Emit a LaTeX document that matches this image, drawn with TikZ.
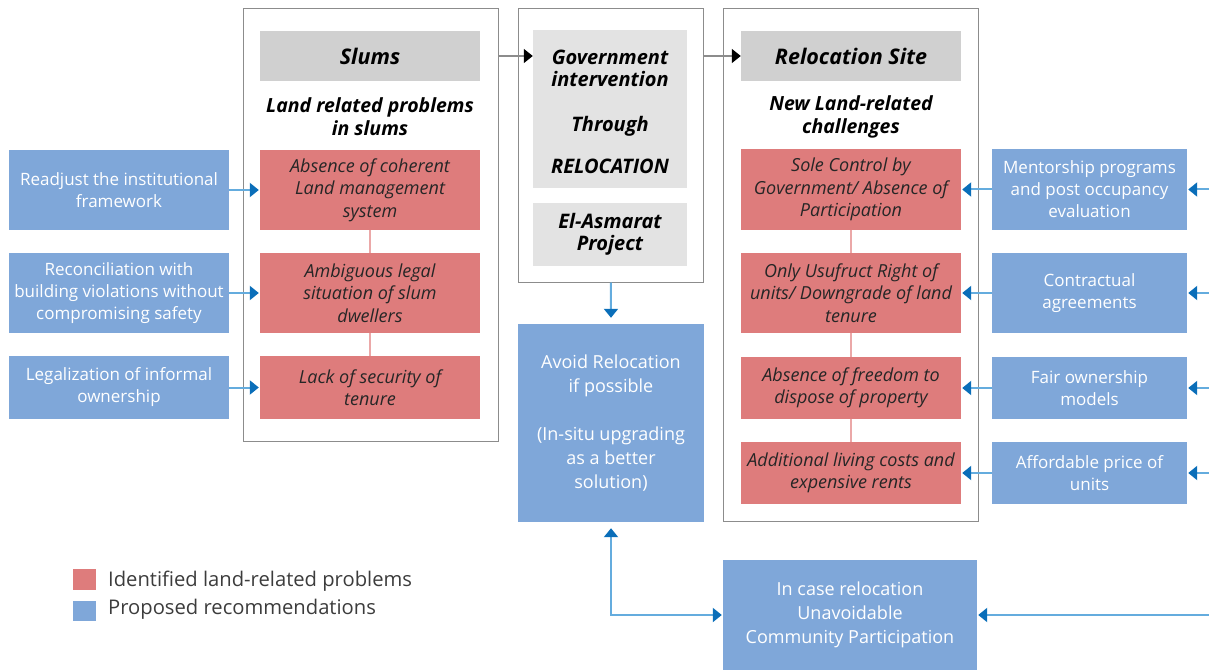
\documentclass[tikz,border=0pt]{standalone}
\usepackage{fontspec}
\setmainfont{Open Sans}
\usetikzlibrary{arrows.meta,shadows}
\definecolor{recblue}{RGB}{127,167,217}
\definecolor{probred}{RGB}{222,124,124}
\definecolor{grayhead}{RGB}{208,208,208}
\definecolor{graylight}{RGB}{227,227,227}
\definecolor{lineblue}{RGB}{100,172,222}
\definecolor{tipblue}{RGB}{10,110,185}
\definecolor{pinkline}{RGB}{235,168,168}
\definecolor{framegray}{RGB}{140,140,140}
\definecolor{legendtext}{RGB}{60,60,60}
\begin{document}
\begin{tikzpicture}[x=1pt,y=-1pt,
  frame/.style={draw=framegray, line width=1pt, fill=white, inner sep=0pt,
    drop shadow={shadow xshift=1.2pt, shadow yshift=-1.2pt, opacity=0.3, fill=black}},
  recbox/.style={fill=recblue, text=white, inner sep=1pt, align=center,
    font=\fontsize{17}{22}\selectfont},
  probbox/.style={fill=probred, text=black!85, inner sep=1pt, align=center,
    font=\fontsize{18}{22.5}\selectfont\itshape},
  headbox/.style={fill=grayhead, inner sep=1pt, align=center,
    font=\fontsize{21.5}{24}\selectfont\bfseries\itshape},
  midbox/.style={fill=graylight, inner sep=1pt, align=center,
    font=\fontsize{20}{22.5}\selectfont\bfseries\itshape},
  titletext/.style={align=center, inner sep=0pt, font=\fontsize{19.5}{23}\selectfont\bfseries\itshape},
  barrow/.style={draw=lineblue, line width=2pt, shorten >=1pt, -{Triangle[width=14pt,length=9pt,color=tipblue]}},
  bdarrow/.style={draw=lineblue, line width=2pt, shorten >=1pt, {Triangle[width=14pt,length=9pt,color=tipblue]}-{Triangle[width=14pt,length=9pt,color=tipblue]}},
  karrow/.style={draw=framegray, line width=1.3pt, -{Triangle[width=14pt,length=9pt,color=black]}},
  plink/.style={draw=pinkline, line width=1.3pt},
  legsq/.style={minimum width=23, minimum height=21, inner sep=0pt},
  legtext/.style={anchor=west, inner sep=0pt, text=legendtext, font=\fontsize{20.2}{24}\selectfont}
]
\useasboundingbox (0,0) rectangle (1209,671);

% outer frames
\node[frame, minimum width=255, minimum height=432] (slumsframe) at (370.5,225) {};
\node[frame, minimum width=185, minimum height=273] (govframe) at (610.5,145.5) {};
\node[frame, minimum width=255, minimum height=512] (relframe) at (850.5,265) {};

% headers
\node[headbox, minimum width=220, minimum height=50] (slh) at (370,56) {Slums};
\node[headbox, minimum width=220, minimum height=50] (relh) at (851,56) {Relocation Site};
\node[titletext] (slt) at (370,117) {Land related problems\\in slums};
\node[titletext] (relt) at (851,117) {New Land-related\\challenges};

\node[midbox, minimum width=154, minimum height=158] (gov) at (610,109) {};
\node[midbox, fill=none, inner sep=0pt] (govtext) at (610,112)
  {Government\\intervention\\[22pt]Through\\[20pt]RELOCATION};
\node[midbox, minimum width=154, minimum height=63] (asm) at (610,234.5) {El-Asmarat\\Project};

% problems left
\node[probbox, minimum width=220, minimum height=80] (r1) at (370,190) {Absence of coherent\\Land management\\system};
\node[probbox, minimum width=220, minimum height=80] (r2) at (370,293) {Ambiguous legal\\situation of slum\\dwellers};
\node[probbox, minimum width=220, minimum height=63] (r3) at (370,387.5) {Lack of security of\\tenure};

% recommendations left
\node[recbox, minimum width=220, minimum height=80] (b1) at (119,190) {Readjust the institutional\\framework};
\node[recbox, minimum width=220, minimum height=80] (b2) at (119,293) {Reconciliation with\\building violations without\\compromising safety};
\node[recbox, minimum width=220, minimum height=63] (b3) at (119,387.5) {Legalization of informal\\ownership};

% problems right
\node[probbox, minimum width=220, minimum height=81] (q1) at (851,189.5) {Sole Control by\\Government/ Absence of\\Participation};
\node[probbox, minimum width=220, minimum height=80] (q2) at (851,293) {Only Usufruct Right of\\units/ Downgrade of land\\tenure};
\node[probbox, minimum width=220, minimum height=62] (q3) at (851,388) {Absence of freedom to\\dispose of property};
\node[probbox, minimum width=220, minimum height=62] (q4) at (851,473) {Additional living costs and\\expensive rents};

% recommendations right
\node[recbox, minimum width=195, minimum height=81] (p1) at (1089.5,189.5) {Mentorship programs\\and post occupancy\\evaluation};
\node[recbox, minimum width=195, minimum height=80] (p2) at (1089.5,293) {Contractual\\agreements};
\node[recbox, minimum width=195, minimum height=62] (p3) at (1089.5,388) {Fair ownership\\models};
\node[recbox, minimum width=195, minimum height=62] (p4) at (1089.5,473) {Affordable price of\\units};

% avoid relocation and community
\node[recbox, minimum width=186, minimum height=198, font=\fontsize{18}{24}\selectfont] (avoid) at (611,423)
  {Avoid Relocation\\if possible\\[24pt](In-situ upgrading\\as a better\\solution)};
\node[recbox, minimum width=254, minimum height=110, font=\fontsize{18}{24}\selectfont] (comm) at (850,615)
  {In case relocation\\Unavoidable\\Community Participation};

% legend
\node[legsq, fill=probred] (lr) at (84.5,579.5) {};
\node[legsq, fill=recblue, minimum height=20] (lb) at (84.5,611) {};
\node[legtext] (lrt) at (108,581) {Identified land-related problems};
\node[legtext] (lbt) at (108,609) {Proposed recommendations};

% free ends on the right edge
\coordinate (e1) at (1209,189.5);
\coordinate (e2) at (1209,293);
\coordinate (e3) at (1209,388);
\coordinate (e4) at (1209,473);
\coordinate (e5) at (1209,615);

% links between problems
\draw[plink] (r1) -- (r2);
\draw[plink] (r2) -- (r3);
\draw[plink] (q1) -- (q2);
\draw[plink] (q2) -- (q3);
\draw[plink] (q3) -- (q4);

% flow arrows (top)
\draw[karrow] (slh.center -| slumsframe.east) -- (slh.center -| gov.west);
\draw[karrow] (relh.center -| govframe.east) -- (relh.west);

% recommendation arrows
\draw[barrow] (b1) -- (r1);
\draw[barrow] (b2) -- (r2);
\draw[barrow] (b3) -- (r3);
\draw[barrow] (p1) -- (q1);
\draw[barrow] (p2) -- (q2);
\draw[barrow] (p3) -- (q3);
\draw[barrow] (p4) -- (q4);
\draw[barrow] (e1) -- (p1);
\draw[barrow] (e2) -- (p2);
\draw[barrow] (e3) -- (p3);
\draw[barrow] (e4) -- (p4);
\draw[barrow] (e5) -- (comm);
\draw[barrow] (govframe) -- ([yshift=5pt]avoid.north);
\draw[bdarrow] ([yshift=-6pt]avoid.south) |- (comm.west);
\end{tikzpicture}
\end{document}
